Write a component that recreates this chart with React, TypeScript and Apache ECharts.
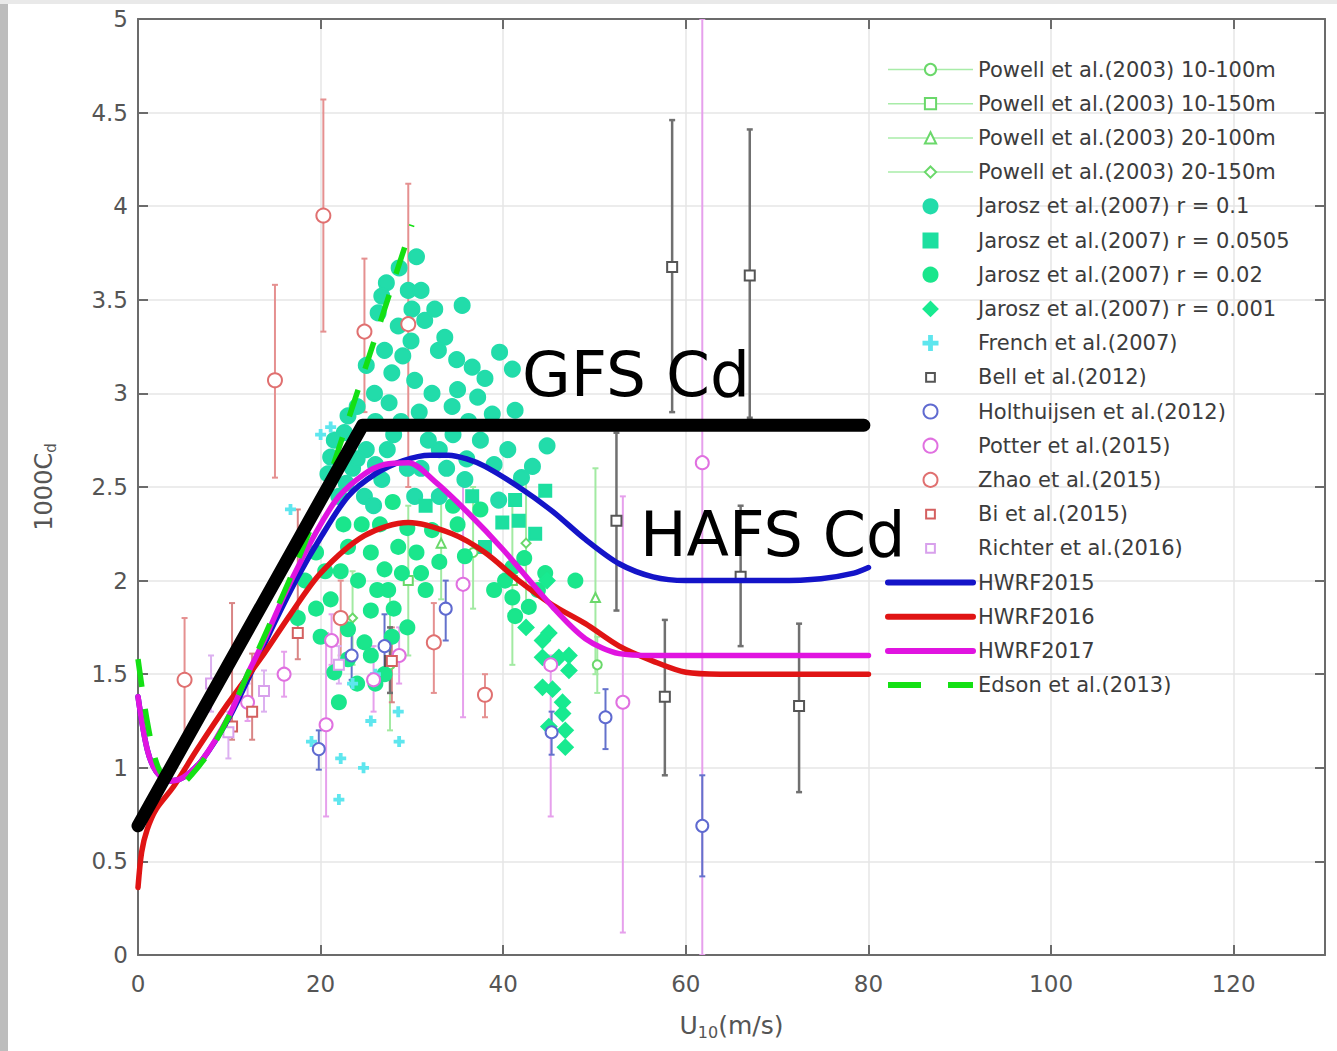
import React, { useEffect, useRef } from 'react';
import * as echarts from 'echarts';

// ---------- data ----------
const xTickValues = [0, 20, 40, 60, 80, 100, 120];
const yTickValues = [0, 0.5, 1, 1.5, 2, 2.5, 3, 3.5, 4, 4.5, 5];

// model curves [U10, 1000Cd]
const gfsCd = [[0, 0.69], [24.6, 2.83], [79.5, 2.83]];
const hwrf2015 = [[0, 1.38], [1, 1.1], [2, 0.98], [3.5, 0.93], [5, 0.95], [7, 1.04], [10, 1.27], [12.5, 1.52], [15, 1.78], [17.5, 2.02], [20, 2.23], [23, 2.45], [26, 2.57], [29, 2.64], [32, 2.67], [34, 2.67], [36, 2.65], [38, 2.61], [41.7, 2.5], [45.4, 2.37], [49, 2.22], [52.7, 2.09], [56.4, 2.02], [60, 2.0], [70, 2.0], [74.8, 2.01], [78.4, 2.04], [80, 2.07]];
const hwrf2016 = [[0, 0.36], [0.4, 0.55], [1, 0.67], [2, 0.78], [3.9, 0.9], [6.5, 1.1], [9.8, 1.34], [13.8, 1.61], [16.7, 1.82], [20, 2.04], [24.8, 2.24], [29.6, 2.31], [34.4, 2.25], [38, 2.15], [41.7, 2.0], [45.4, 1.87], [49, 1.77], [52.7, 1.65], [56.4, 1.57], [60, 1.51], [63.8, 1.5], [80, 1.5]];
const hwrf2017 = [[0, 1.38], [1, 1.1], [2, 0.98], [3.5, 0.93], [5, 0.95], [7, 1.04], [10, 1.28], [12, 1.5], [14, 1.7], [16, 1.92], [18, 2.12], [20, 2.3], [22, 2.45], [24.8, 2.57], [27, 2.62], [29.6, 2.63], [32.5, 2.53], [36.2, 2.36], [39.9, 2.17], [45.4, 1.86], [49, 1.69], [52.7, 1.61], [56.4, 1.6], [80, 1.6]];
const edson2013 = [[0, 1.58], [1, 1.25], [2, 1.03], [3, 0.94], [4.3, 0.9], [6, 0.97], [8, 1.1], [10, 1.28], [12, 1.5], [14, 1.72], [17, 2.05], [20, 2.42], [23.3, 2.9], [26, 3.3], [28, 3.6], [30, 3.9]];

// observations with error bars [U10, value, low, high]
const powell10_100 = [[27.6, 1.55, 1.2, 1.95], [36.7, 2.15, 1.85, 2.5], [50.3, 1.55, 1.4, 1.7]];
const powell10_150 = [[41.0, 2.0, 1.55, 2.45], [29.6, 2.0, 1.6, 2.4]];
const powell20_100 = [[50.1, 1.91, 1.5, 2.6], [33.2, 2.2, 1.9, 2.5]];
const powell20_150 = [[42.5, 2.2, 1.85, 2.55], [23.5, 1.8, 1.55, 2.05]];

// scatter-only observations [U10, value]
const jarosz01 = [[30.5, 3.73], [28.6, 3.67], [27.2, 3.59], [26.7, 3.52], [35.5, 3.47], [26.3, 3.43], [31.4, 3.39], [28.5, 3.36], [33.6, 3.3], [32.9, 3.23], [39.6, 3.22], [27.0, 3.23], [34.9, 3.18], [41.0, 3.13], [36.6, 3.14], [38.0, 3.08], [27.8, 3.11], [30.3, 3.07], [32.2, 3.0], [25.9, 3.0], [34.4, 2.93], [38.8, 2.89], [41.3, 2.91], [29.6, 3.55], [29.9, 3.28], [24.0, 2.93], [23.0, 2.88], [21.1, 2.66], [21.5, 2.75], [22.6, 2.79], [20.8, 2.57], [26.7, 2.54], [24.8, 2.45], [30.3, 2.45], [35.8, 2.54], [39.5, 2.43], [44.8, 2.72], [43.2, 2.61], [33.0, 2.7], [37.5, 2.75], [22.0, 2.45], [23.5, 2.6], [25.0, 2.7], [26.0, 2.85], [27.5, 2.95], [28.8, 2.85], [30.8, 2.9], [31.8, 2.75], [33.8, 2.6], [36.2, 2.85], [37.2, 2.98], [35.0, 3.02], [29.0, 3.2], [31.0, 3.55], [32.5, 3.45], [30.0, 3.45], [25.0, 3.15], [26.0, 2.62], [28.0, 2.78], [39.0, 2.62], [40.5, 2.7], [42.0, 2.55], [31.0, 2.6], [33.0, 2.45], [24.0, 2.65], [22.8, 2.52], [25.8, 2.4], [27.3, 2.7], [29.5, 2.6], [34.5, 2.78], [36.0, 2.65]];
const jarosz0505 = [[44.6, 2.48], [41.3, 2.43], [43.5, 2.25], [36.6, 2.45], [39.9, 2.31], [38.0, 2.18], [41.7, 2.32], [31.5, 2.4]];
const jarosz002 = [[23.0, 2.18], [28.5, 2.18], [32.2, 2.27], [35.8, 2.13], [27.0, 2.06], [31.0, 2.04], [21.1, 1.9], [24.1, 2.0], [25.5, 1.84], [27.4, 1.95], [28.9, 2.04], [23.0, 1.58], [21.5, 1.51], [27.8, 1.7], [24.8, 1.67], [23.0, 1.74], [41.0, 1.91], [41.3, 1.81], [47.9, 2.0], [41.0, 2.07], [42.8, 1.86], [44.6, 2.04], [33.0, 2.1], [35.0, 2.3], [22.5, 2.3], [25.5, 2.15], [26.5, 2.3], [29.5, 2.28], [20.5, 2.05], [27.9, 2.42], [19.5, 1.85], [26.0, 1.45], [37.5, 2.38], [42.3, 2.12], [43.8, 1.95], [40.2, 2.0], [39.0, 1.95], [34.5, 2.4], [19.5, 2.15], [18.3, 2.0], [17.5, 1.8], [20.0, 1.7], [22.0, 1.35], [24.0, 1.45], [25.5, 1.6], [27.0, 1.5], [28.0, 1.85], [30.5, 2.15], [29.5, 1.75], [31.5, 1.95], [24.5, 2.3], [26.2, 1.95], [22.2, 2.05]];
const jarosz0001 = [[45.0, 1.72], [46.1, 1.59], [47.2, 1.52], [44.3, 1.59], [45.4, 1.42], [46.5, 1.29], [46.8, 1.11], [45.0, 1.22], [44.3, 1.68], [47.2, 1.6], [44.3, 1.43], [46.5, 1.35], [46.8, 1.2], [44.8, 2.0], [42.5, 1.75]];
const french2007 = [[21.1, 2.82], [16.7, 2.38], [22.2, 1.05], [24.7, 1.0], [22.0, 0.83], [19.0, 1.14], [28.6, 1.14], [23.5, 1.45], [26.0, 1.5], [20.0, 2.78], [25.5, 1.25], [28.5, 1.3]];

const bell2012 = [[58.5, 3.675, 2.9, 4.46], [67.0, 3.63, 2.87, 4.41], [52.4, 2.32, 1.84, 2.79], [57.7, 1.38, 0.96, 1.79], [66.0, 2.02, 1.65, 2.4], [72.4, 1.33, 0.87, 1.77], [27.6, 1.57, 1.4, 1.75]];
const holthuijsen2012 = [[19.8, 1.1, 0.99, 1.2], [33.7, 1.85, 1.68, 2.0], [45.3, 1.19, 1.07, 1.3], [51.2, 1.27, 1.1, 1.42], [61.8, 0.69, 0.42, 0.96], [27.0, 1.65, 1.48, 1.82], [23.4, 1.6, 1.47, 1.72]];
const potter2015 = [[61.8, 2.63, 0.0, 5.0], [53.1, 1.35, 0.12, 2.45], [35.6, 1.98, 1.27, 2.55], [20.6, 1.23, 0.74, 1.72], [25.8, 1.47, 1.3, 1.65], [16.0, 1.5, 1.38, 1.62], [28.6, 1.6, 1.45, 1.75], [21.2, 1.68, 1.55, 1.82], [12.0, 1.35, 1.25, 1.45], [45.2, 1.55, 0.74, 1.6]];
const zhao2015 = [[5.1, 1.47, 1.15, 1.8], [15.0, 3.07, 2.55, 3.58], [20.3, 3.95, 3.33, 4.57], [24.8, 3.33, 2.9, 3.72], [29.6, 3.37, 2.5, 4.12], [32.4, 1.67, 1.4, 1.88], [38.0, 1.39, 1.27, 1.5], [22.2, 1.8, 1.6, 2.0]];
const bi2015 = [[10.3, 1.22, 1.15, 1.88], [12.5, 1.3, 1.15, 1.61], [17.5, 1.72, 1.58, 2.38], [27.8, 1.57, 1.35, 1.75]];
const richter2016 = [[9.9, 1.19, 1.05, 1.3], [13.8, 1.41, 1.3, 1.52], [8.0, 1.45, 1.3, 1.6], [22.0, 1.55, 1.45, 1.65]];

const legendNames = [
  'Powell et al.(2003) 10-100m',
  'Powell et al.(2003) 10-150m',
  'Powell et al.(2003) 20-100m',
  'Powell et al.(2003) 20-150m',
  'Jarosz et al.(2007) r = 0.1',
  'Jarosz et al.(2007) r = 0.0505',
  'Jarosz et al.(2007) r = 0.02',
  'Jarosz et al.(2007) r = 0.001',
  'French et al.(2007)',
  'Bell et al.(2012)',
  'Holthuijsen et al.(2012)',
  'Potter et al.(2015)',
  'Zhao et al.(2015)',
  'Bi et al.(2015)',
  'Richter et al.(2016)',
  'HWRF2015',
  'HWRF2016',
  'HWRF2017',
  'Edson et al.(2013)',
];

const FONT = '"DejaVu Sans", sans-serif';
const SQUARE = 'path://M0,0H10V10H0Z';
const SMALL_SQUARE = 'path://M-3,-3M13,13M0,0H10V10H0Z';
const DIAMOND = 'path://M5,0L10,5L5,10L0,5Z';

const C2015 = '#1414c8';
const C2016 = '#e01414';
const C2017 = '#e014e0';
const CEDSON = '#14e014';

function errorBars(data: number[][], color: string, width = 2) {
  return {
    type: 'custom',
    silent: true,
    clip: true,
    z: 2,
    data,
    encode: { x: 0, y: [1, 2, 3] },
    renderItem: (params: any, api: any) => {
      const x = api.value(0);
      const lo = api.coord([x, api.value(2)]);
      const hi = api.coord([x, api.value(3)]);
      const cap = 3;
      const st = { stroke: color, lineWidth: width };
      return {
        type: 'group',
        children: [
          { type: 'line', shape: { x1: lo[0], y1: lo[1], x2: hi[0], y2: hi[1] }, style: st },
          { type: 'line', shape: { x1: lo[0] - cap, y1: lo[1], x2: lo[0] + cap, y2: lo[1] }, style: st },
          { type: 'line', shape: { x1: hi[0] - cap, y1: hi[1], x2: hi[0] + cap, y2: hi[1] }, style: st },
        ],
      };
    },
  };
}

function scatter(name: string, data: number[][], symbol: string, size: number, color: string, z = 3) {
  return {
    type: 'scatter',
    name,
    data: data.map((d) => [d[0], d[1]]),
    symbol,
    symbolSize: size,
    itemStyle: { color, borderColor: color, borderWidth: 2, opacity: 1 },
    z,
  };
}

function powellLine(name: string, data: number[][], symbol: string) {
  return {
    type: 'line',
    name,
    data: data.map((d) => [d[0], d[1]]),
    symbol,
    symbolSize: 9,
    showSymbol: true,
    lineStyle: { opacity: 0, width: 1, color: '#9be89b' },
    itemStyle: { color: '#6ad86a', borderWidth: 2 },
    z: 3,
  };
}

function curve(name: string, data: number[][], color: string, width: number, extra: any = {}) {
  return {
    type: 'line',
    name,
    data,
    smooth: 0.3,
    symbol: 'none',
    showSymbol: false,
    lineStyle: { color, width, cap: 'round', join: 'round', ...extra },
    itemStyle: { color },
    z: 5,
  };
}

const legendOverrides: Record<string, any> = {
  'Jarosz et al.(2007) r = 0.0505': { icon: SQUARE },
  'Jarosz et al.(2007) r = 0.001': { icon: DIAMOND },
  'Bell et al.(2012)': { icon: SMALL_SQUARE, itemStyle: { color: 'rgba(255,255,255,0)', borderColor: '#555555', borderWidth: 2 } },
  'Bi et al.(2015)': { icon: SMALL_SQUARE, itemStyle: { color: 'rgba(255,255,255,0)', borderColor: '#d46060', borderWidth: 2 } },
  'Richter et al.(2016)': { icon: SMALL_SQUARE, itemStyle: { color: 'rgba(255,255,255,0)', borderColor: '#d8a0ec', borderWidth: 2 } },
  HWRF2015: { itemStyle: { opacity: 0 }, lineStyle: { width: 6, color: C2015, opacity: 1 } },
  HWRF2016: { itemStyle: { opacity: 0 }, lineStyle: { width: 6, color: C2016, opacity: 1 } },
  HWRF2017: { itemStyle: { opacity: 0 }, lineStyle: { width: 6, color: C2017, opacity: 1 } },
  'Edson et al.(2013)': { itemStyle: { opacity: 0 }, lineStyle: { width: 6, color: CEDSON, opacity: 1, type: [33, 27] } },
};

export default function App() {
  const ref = useRef<HTMLDivElement>(null);

  useEffect(() => {
    document.body.style.margin = '0';
    const chart = echarts.init(ref.current as HTMLDivElement, undefined, { renderer: 'svg' });

    const axisCommon = {
      type: 'value',
      axisLine: { show: true, onZero: false, lineStyle: { color: '#6b6b6b', width: 2 } },
      axisTick: { show: true, inside: true, length: 10, lineStyle: { color: '#6b6b6b', width: 2 } },
    };

    const legendData = legendNames.map((n) => {
      if (n.startsWith('Powell')) return { name: n, lineStyle: { opacity: 1, width: 1.5, color: '#a8eca8' } };
      if (legendOverrides[n]) return { name: n, ...legendOverrides[n] };
      return { name: n };
    });

    const option: any = {
      animation: false,
      backgroundColor: '#ffffff',
      grid: { left: 138, right: 12, top: 19, bottom: 96, containLabel: false },
      xAxis: [
        {
          ...axisCommon,
          min: 0,
          max: 130,
          interval: 20,
          position: 'bottom',
          axisLabel: { show: true, showMaxLabel: false, margin: 17, fontSize: 23, color: '#555', fontFamily: FONT,
            formatter: (v: number) => (xTickValues.includes(v) ? String(v) : '') },
          splitLine: { show: true, lineStyle: { color: '#e6e6e6', width: 1.5 } },
          name: 'U{s|10}(m/s)',
          nameLocation: 'middle',
          nameGap: 55,
          nameTextStyle: { fontSize: 25, color: '#555', fontFamily: FONT, rich: { s: { fontSize: 16, color: '#555', fontFamily: FONT, padding: [14, 0, 0, 0] } } },
        },
        {
          ...axisCommon,
          min: 0,
          max: 130,
          interval: 20,
          position: 'top',
          axisLabel: { show: false },
          splitLine: { show: false },
        },
      ],
      yAxis: [
        {
          ...axisCommon,
          min: 0,
          max: 5,
          interval: 0.5,
          position: 'left',
          axisLabel: { show: true, margin: 10, fontSize: 23, color: '#555', fontFamily: FONT,
            formatter: (v: number) => (yTickValues.includes(v) ? String(v) : '') },
          splitLine: { show: true, lineStyle: { color: '#e6e6e6', width: 1.5 } },
          name: '1000C{s|d}',
          nameLocation: 'middle',
          nameGap: 80,
          nameRotate: 90,
          nameTextStyle: { fontSize: 24, color: '#555', fontFamily: FONT, rich: { s: { fontSize: 15, color: '#555', fontFamily: FONT, padding: [14, 0, 0, 0] } } },
        },
        {
          ...axisCommon,
          min: 0,
          max: 5,
          interval: 0.5,
          position: 'right',
          axisLabel: { show: false },
          splitLine: { show: false },
        },
      ],
      legend: {
        orient: 'vertical',
        left: 885,
        top: 59,
        padding: 0,
        itemWidth: 85,
        itemHeight: 14,
        itemGap: 13.2,
        selectedMode: false,
        textStyle: { fontSize: 21, color: '#3c3c3c', fontFamily: FONT, lineHeight: 20 },
        data: legendData,
      },
      graphic: [
        { type: 'rect', left: 0, top: 0, shape: { width: 8, height: 1051 }, style: { fill: '#bdbdbd' }, z: 100 },
        { type: 'rect', left: 0, top: 0, shape: { width: 1337, height: 4 }, style: { fill: '#e9e9e9' }, z: 100 },
        { type: 'text', x: 522, y: 374, style: { text: 'GFS Cd', font: '63px "DejaVu Sans"', fill: '#000', verticalAlign: 'middle' }, z: 100 },
        { type: 'text', x: 640, y: 534, style: { text: 'HAFS Cd', font: '62px "DejaVu Sans"', fill: '#000', verticalAlign: 'middle' }, z: 100 },
      ],
      series: [
        // error bars
        errorBars(powell10_100, '#a2eaa2'),
        errorBars(powell10_150, '#a2eaa2'),
        errorBars(powell20_100, '#a2eaa2'),
        errorBars(powell20_150, '#a2eaa2'),
        errorBars(potter2015, '#e6a0ec'),
        errorBars(zhao2015, '#e59090'),
        errorBars(bi2015, '#d98585'),
        errorBars(richter2016, '#dcb0f0'),
        errorBars(bell2012, '#707070', 2.5),
        errorBars(holthuijsen2012, '#6472cc'),
        // observations
        powellLine(legendNames[0], powell10_100, 'emptyCircle'),
        powellLine(legendNames[1], powell10_150, 'emptyRect'),
        powellLine(legendNames[2], powell20_100, 'emptyTriangle'),
        powellLine(legendNames[3], powell20_150, 'emptyDiamond'),
        scatter(legendNames[4], jarosz01, 'circle', 15, '#22dcaa'),
        scatter(legendNames[5], jarosz0505, SQUARE, 12, '#1ddfa0'),
        scatter(legendNames[6], jarosz002, 'circle', 14, '#1ae68c'),
        scatter(legendNames[7], jarosz0001, DIAMOND, 15, '#18ea90'),
        scatter(legendNames[8], french2007, 'path://M4,0H6V4H10V6H6V10H4V6H0V4H4Z', 9, '#5ee6ee'),
        scatter(legendNames[9], bell2012, 'emptyRect', 10, '#555555', 4),
        scatter(legendNames[10], holthuijsen2012, 'emptyCircle', 12, '#5f6ad0', 4),
        scatter(legendNames[11], potter2015, 'emptyCircle', 13, '#e070e0', 4),
        scatter(legendNames[12], zhao2015, 'emptyCircle', 14, '#e07070', 4),
        scatter(legendNames[13], bi2015, 'emptyRect', 10, '#d46060', 4),
        scatter(legendNames[14], richter2016, 'emptyRect', 10, '#d8a0ec', 4),
        // model curves
        curve(legendNames[15], hwrf2015, C2015, 5.5),
        curve(legendNames[16], hwrf2016, C2016, 5.5),
        curve(legendNames[17], hwrf2017, C2017, 5.5),
        curve(legendNames[18], edson2013, CEDSON, 5.5, { type: [28, 22], cap: 'butt' }),
        {
          type: 'line',
          name: 'GFS Cd',
          data: gfsCd,
          symbol: 'none',
          lineStyle: { color: '#000', width: 13, cap: 'round', join: 'round' },
          itemStyle: { color: '#000' },
          z: 6,
        },
      ],
    };

    chart.setOption(option);
    return () => chart.dispose();
  }, []);

  return <div ref={ref} style={{ width: 1337, height: 1051 }} />;
}
